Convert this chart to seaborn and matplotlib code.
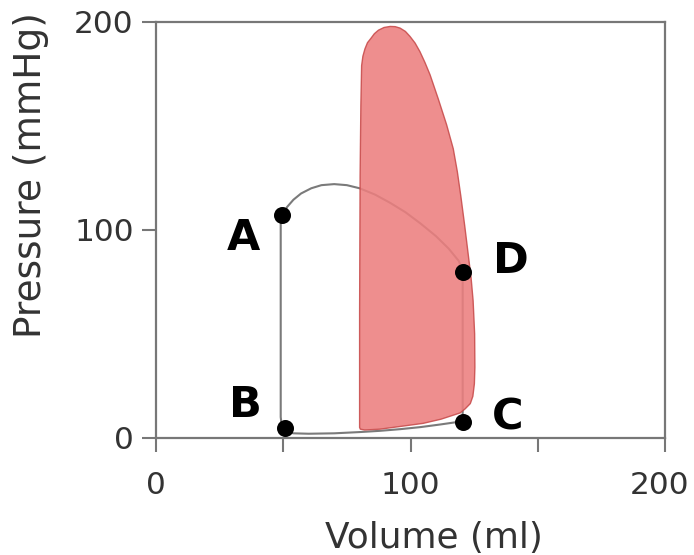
import matplotlib
matplotlib.use("Agg")
import matplotlib.pyplot as plt
import matplotlib.transforms as mtransforms
import seaborn as sns
import pandas as pd

# ---- data ----
# pressure-volume loop (gray line)
loop_volume = [49, 50, 51.5, 54, 57, 61, 65, 70, 75, 80, 86, 92, 98, 104, 110, 115, 119, 120.5,
               120.5, 112, 104, 96, 88, 80, 70, 60, 54, 51, 49.5, 49, 49]
loop_pressure = [105, 108, 111, 114.5, 117.5, 120, 121.5, 122, 121.5, 120, 117, 113, 108.5, 103, 97, 91, 85, 80,
                 8, 6.5, 5.2, 4.2, 3.4, 2.8, 2.2, 2, 2.2, 3, 5, 10, 105]

# red (shaded) loop outline
shade_volume = [80, 80, 80.2, 80.5, 80.8, 81.3, 82.1, 83.1, 84.4, 85.8, 87.4, 89.6, 92, 94, 95.9,
                98, 99.8, 101.8, 103.7, 105.7, 107.7, 110.9, 114.2, 116.8, 118.4, 119.8, 121.3,
                122.6, 123.8, 124.6, 125.2, 125.3, 125.1, 124.5, 123.5, 121.5, 119.5, 112, 105,
                96, 88, 82, 80.3, 80]
shade_pressure = [5, 60, 126, 160, 179, 183.5, 187, 190, 192, 194.3, 196, 197.3, 197.8, 197.7, 197,
                  195.4, 193, 189.8, 185.7, 180.4, 174.5, 163, 150.5, 139, 128, 116, 102,
                  89, 77, 66, 50, 34, 26, 20, 16.5, 14, 12, 9, 7,
                  5.5, 4.2, 3.8, 4.2, 5]

# labelled points
point_names = ["A", "B", "C", "D"]
point_volume = [49.5, 50.7, 120.6, 120.6]
point_pressure = [107, 4.8, 7.7, 79.8]

x_ticks = [0, 50, 100, 150, 200]
x_tick_labels = ["0", "", "100", "", "200"]
y_ticks = [0, 100, 200]
y_tick_labels = ["0", "100", "200"]

loop_df = pd.DataFrame({"Volume": loop_volume, "Pressure": loop_pressure})
pts_df = pd.DataFrame({"name": point_names, "Volume": point_volume, "Pressure": point_pressure})

sns.set_style("ticks")
plt.rcParams["font.family"] = ["DejaVu Sans"]

fig = plt.figure(figsize=(6.94, 5.55), dpi=100)
ax = fig.add_axes([0.2248, 0.211, 0.7334, 0.7496])

sns.lineplot(data=loop_df, x="Volume", y="Pressure", sort=False, estimator=None,
             color="#7a7a7a", linewidth=1.5, ax=ax, zorder=2)
ax.fill(shade_volume, shade_pressure, facecolor="#ec7f7f", edgecolor="#c84b4b",
        linewidth=1.0, alpha=0.88, zorder=3)
sns.scatterplot(data=pts_df, x="Volume", y="Pressure", color="black", s=150,
                edgecolor="black", linewidth=0, ax=ax, zorder=5)

# letter annotations (offset left/right of the points)
label_offsets = {"A": (-15, -16.6), "B": (-15.7, 5.2), "C": (17.4, -3.9), "D": (18.9, -0.6)}
for name, v, p in zip(point_names, point_volume, point_pressure):
    dx, dy = label_offsets[name]
    ax.text(v + dx, p + dy, name, ha="center", va="baseline", fontsize=31,
            fontweight="bold", color="black", zorder=6)

ax.set_xlim(0, 200)
ax.set_ylim(0, 200)
ax.set_xticks(x_ticks)
ax.set_xticklabels(x_tick_labels)
ax.set_yticks(y_ticks)
ax.set_yticklabels(y_tick_labels)

for s in ax.spines.values():
    s.set_color("#777777")
    s.set_linewidth(1.6)
ax.tick_params(axis="both", direction="out", length=10, width=1.5, color="#777777",
               labelsize=22.5, labelcolor="#333333")
ax.tick_params(axis="x", pad=14)
ax.tick_params(axis="y", pad=6)

# nudge the last x tick label slightly left so it stays inside the image
last = ax.get_xticklabels()[-1]
last.set_transform(last.get_transform() + mtransforms.ScaledTranslation(-5 / 100, 0, fig.dpi_scale_trans))

ax.set_xlabel("Volume (ml)", fontsize=25.8, color="#333333")
ax.set_ylabel("Pressure (mmHg)", fontsize=27, color="#333333")
ax.xaxis.set_label_coords(0.546, -0.2)
ax.yaxis.set_label_coords(-0.21, 0.632)

fig.savefig("out.png", dpi=100)
